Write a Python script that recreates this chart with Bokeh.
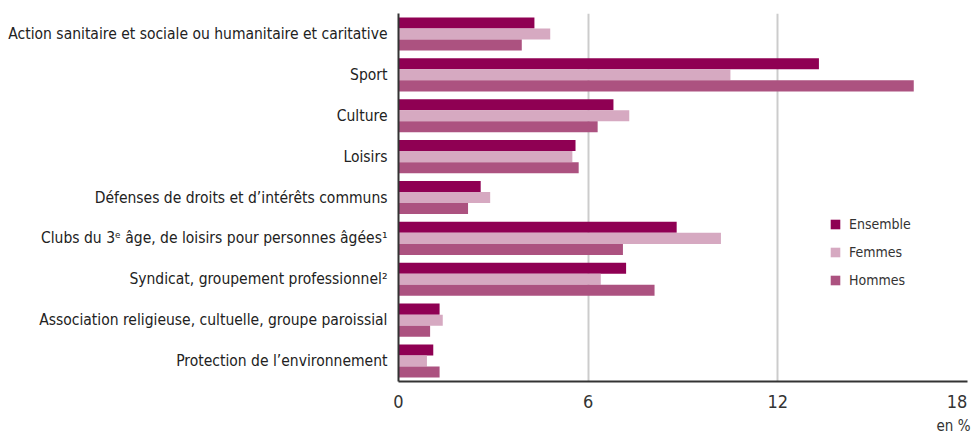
from bokeh.plotting import figure
from bokeh.models import Range1d, Legend, LegendItem, Title, FixedTicker, ColumnDataSource
from bokeh.transform import dodge
from bokeh.embed import file_html
from bokeh.resources import INLINE

categories = [
    "Action sanitaire et sociale ou humanitaire et caritative",
    "Sport",
    "Culture",
    "Loisirs",
    "Défenses de droits et d’intérêts communs",
    "Clubs du 3ᵉ âge, de loisirs pour personnes âgées¹",
    "Syndicat, groupement professionnel²",
    "Association religieuse, cultuelle, groupe paroissial",
    "Protection de l’environnement",
]
ensemble = [4.3, 13.3, 6.8, 5.6, 2.6, 8.8, 7.2, 1.3, 1.1]
femmes = [4.8, 10.5, 7.3, 5.5, 2.9, 10.2, 6.4, 1.4, 0.9]
hommes = [3.9, 16.3, 6.3, 5.7, 2.2, 7.1, 8.1, 1.0, 1.3]
series_names = ["Ensemble", "Femmes", "Hommes"]
x_ticks = [0, 6, 12, 18]

FONT = "'DejaVu Sans Condensed', Roboto, sans-serif"
colors = ["#8f0053", "#d6a9c1", "#ac5280"]

source = ColumnDataSource(dict(cat=categories, Ensemble=ensemble, Femmes=femmes, Hommes=hommes))

p = figure(
    y_range=list(reversed(categories)),
    x_range=Range1d(0, 18),
    width=972, height=434,
    min_border_left=398, min_border_right=5, min_border_top=13, min_border_bottom=52,
    output_backend="svg", toolbar_location=None,
)
p.outline_line_color = None

offsets = [0.27, 0.0, -0.27]
renderers = []
for name, off, col in zip(series_names, offsets, colors):
    r = p.hbar(y=dodge("cat", off, range=p.y_range), right=name, left=0, height=0.27,
               source=source, fill_color=col, line_color=None)
    renderers.append(r)

p.ygrid.grid_line_color = None
p.xgrid.grid_line_color = "#cccccc"
p.xgrid.grid_line_width = 2
p.xgrid.ticker = FixedTicker(ticks=[6, 12, 18])

p.xaxis.ticker = FixedTicker(ticks=x_ticks)
p.xaxis.major_label_overrides = {18: "18\u00a0"}
p.xaxis.axis_line_color = "#333333"
p.xaxis.axis_line_width = 2
p.xaxis.major_tick_line_color = None
p.xaxis.minor_tick_line_color = None
p.xaxis.major_tick_out = 0
p.xaxis.major_tick_in = 0
p.xaxis.minor_tick_out = 0
p.xaxis.major_label_text_font = FONT
p.xaxis.major_label_text_font_size = "18px"
p.xaxis.major_label_text_color = "#333333"
p.xaxis.major_label_standoff = 9

p.yaxis.axis_line_color = "#333333"
p.yaxis.axis_line_width = 2
p.yaxis.major_tick_line_color = None
p.yaxis.minor_tick_line_color = None
p.yaxis.major_tick_out = 0
p.yaxis.major_tick_in = 0
p.yaxis.minor_tick_out = 0
p.yaxis.major_label_text_font = FONT
p.yaxis.major_label_text_font_size = "15.5px"
p.yaxis.major_label_text_color = "#222222"
p.yaxis.major_label_standoff = 11

legend = Legend(items=[LegendItem(label=n, renderers=[r]) for n, r in zip(series_names, renderers)],
                location=(431, 93), orientation="vertical",
                glyph_width=12, glyph_height=12, label_height=12, spacing=12,
                label_standoff=8, padding=0, margin=0,
                border_line_color=None, background_fill_alpha=0,
                label_text_font=FONT, label_text_font_size="14px", label_text_color="#333333",
                label_text_baseline="middle")
p.add_layout(legend)

t = Title(text="en %", align="right", offset=-3, standoff=0, text_font=FONT, text_font_size="15px",
          text_font_style="normal", text_color="#333333")
p.add_layout(t, "below")

open("out.html", "w").write(file_html(p, INLINE))
